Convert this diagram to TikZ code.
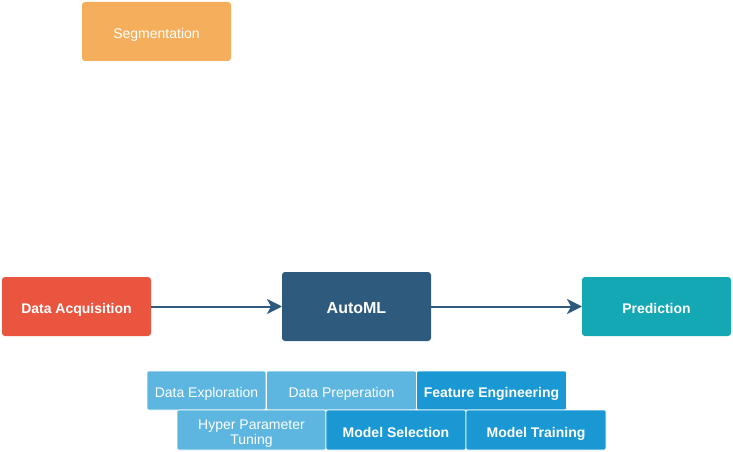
\documentclass[tikz,border=0pt]{standalone}
\usepackage{fontspec}
\setmainfont{Liberation Sans}
\usepackage{xcolor}
\usetikzlibrary{arrows.meta}

\definecolor{segorange}{HTML}{F5AF5C}
\definecolor{acqred}{HTML}{E9553F}
\definecolor{automlblue}{HTML}{2E5A7E}
\definecolor{predteal}{HTML}{14A8B4}
\definecolor{steplight}{HTML}{5DB6E0}
\definecolor{stepdark}{HTML}{1A98D4}

\tikzset{
    bigbox/.style={rectangle, rounded corners=3pt, inner sep=0pt, outer sep=0pt, text height=13pt, text depth=0pt,
        minimum width=149pt, minimum height=59pt, text=white, font=\fontsize{14}{16}\selectfont\bfseries},
    tilelight/.style={rectangle, rounded corners=2pt, inner sep=0pt, outer sep=0pt, draw=white, line width=0.6pt,
        text height=14.5pt, text depth=0pt,
        fill=steplight, text=white, minimum height=39pt, font=\fontsize{14}{15}\selectfont, align=center},
    tiledark/.style={tilelight, fill=stepdark, font=\fontsize{14}{15}\selectfont\bfseries},
    flow/.style={draw=automlblue, line width=2pt, -{Stealth[length=15pt, width=15pt, inset=4pt]}}
}

\begin{document}
\begin{tikzpicture}[x=1pt, y=-1pt]

        \useasboundingbox (0,0) rectangle (733,452);

        %% Segmentation
        \node (seg) [bigbox, fill=segorange, font=\fontsize{14}{16}\selectfont] at (156.5,31.5) {Segmentation};

        %% Main pipeline
        \node (acq) [bigbox, fill=acqred] at (76.5,306.5) {Data Acquisition};
        \node (automl) [bigbox, fill=automlblue, minimum height=69pt, font=\fontsize{16}{18}\selectfont\bfseries] at (356.5,306.5) {AutoML};
        \node (pred) [bigbox, fill=predteal] at (656.5,306.5) {Prediction};

        %% Arrows
        \draw [flow] (acq.east) -- (automl.west);
        \draw [flow] (automl.east) -- (pred.west);

        %% AutoML steps, first row
        \node (explore) [tilelight, minimum width=119pt] at (206.5,390.5) {Data Exploration};
        \node (prep) [tilelight, minimum width=150pt] at (341.5,390.5) {Data Preperation};
        \node (feature) [tiledark, minimum width=150pt] at (491.5,390.5) {Feature Engineering};

        %% AutoML steps, second row
        \node (hyper) [tilelight, minimum width=149pt, minimum height=40pt, text height=28pt] at (251.5,430) {Hyper Parameter\\Tuning};
        \node (select) [tiledark, minimum width=140pt, minimum height=40pt] at (396,430) {Model Selection};
        \node (train) [tiledark, minimum width=140pt, minimum height=40pt] at (536,430) {Model Training};

    \end{tikzpicture}
\end{document}
